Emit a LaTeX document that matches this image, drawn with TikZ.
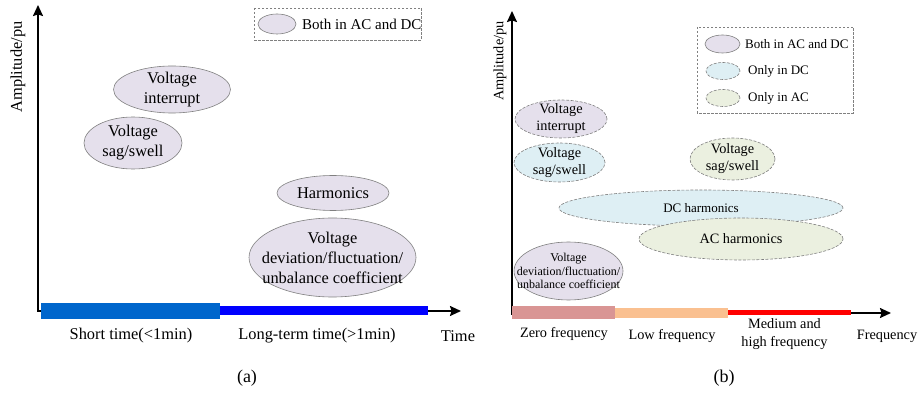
\documentclass[tikz,border=0pt]{standalone}
\usepackage{fontspec}
\setmainfont{Liberation Serif}
\usetikzlibrary{shapes.geometric,arrows.meta}

\definecolor{bothfill}{HTML}{E5E0EC}
\definecolor{dcfill}{HTML}{DEEFF4}
\definecolor{acfill}{HTML}{EBF0E0}
\definecolor{rim}{HTML}{808080}
\definecolor{shortbar}{HTML}{0066CC}
\definecolor{longbar}{HTML}{0000FF}
\definecolor{zerobar}{HTML}{D99594}
\definecolor{lowbar}{HTML}{FAC090}
\definecolor{highbar}{HTML}{FF0000}

\tikzset{
  x=1pt, y=-1pt,
  fa/.style={font=\fontsize{16.4}{20}\selectfont},
  fb/.style={font=\fontsize{14.3}{17}\selectfont},
  bubble/.style={ellipse, inner sep=0pt, draw=rim, line width=0.6pt},
  both/.style={bubble, fill=bothfill},
  dconly/.style={bubble, fill=dcfill, dash pattern=on 3pt off 1.5pt},
  aconly/.style={bubble, fill=acfill, dash pattern=on 3pt off 1.5pt},
  % text set on top of an ellipse of fixed size
  inside/.style 2 args={label={[lbl,#1]center:{#2}}},
  legendbox/.style={draw=rim, line width=0.6pt, dash pattern=on 2.5pt off 1.5pt},
  axis/.style={line width=1.8pt, -{Stealth[length=11pt,width=10pt,inset=1.5pt]}},
  lbl/.style={inner sep=0pt, align=center},
}

\begin{document}
\begin{tikzpicture}
\useasboundingbox[fill=white] (0,0) rectangle (919,395);

% ---------- (a) amplitude versus time ----------
\coordinate (aCorner) at (38,312);
\coordinate (aTop) at (38,5);
\coordinate (aEnd) at (461,311);
\draw[axis] (38,311) -- (aEnd);
\draw[axis] (aCorner) -- (aTop);
\fill[shortbar] (41,303) rectangle (220,319);
\fill[longbar] (220,306) rectangle (428,315);

\node[fa, lbl, rotate=90] (aylab) at (18,67) {Amplitude/pu};
\node[fa, lbl] (ashort) at (131,336) {Short time(<1min)};
\node[fa, lbl] (along) at (317,336) {Long-term time(>1min)};
\node[fa, lbl] (atime) at (458,336) {Time};
\node[lbl, font=\fontsize{18}{20}\selectfont] (acap) at (247,378) {(a)};

\draw[legendbox] (254,8) rectangle (421,40);
\node[both, minimum width=38pt, minimum height=20pt] (alegboth) at (277,24) {};
\node[lbl, anchor=west, font=\fontsize{15}{18}\selectfont] (alegtxt) at (302,24) {Both in AC and DC};

\node[both, minimum width=117pt, minimum height=47pt, inside={fa}{Voltage\\interrupt}] (aint) at (172,89.5) {};
\node[both, minimum width=98pt, minimum height=52pt, inside={fa}{Voltage\\sag/swell}] (asag) at (133,143) {};
\node[both, minimum width=112pt, minimum height=35pt, inside={fa}{Harmonics}] (aharm) at (333,193) {};
\node[both, minimum width=167pt, minimum height=79pt,
  inside={fa}{Voltage\\deviation/fluctuation/\\unbalance coefficient}] (adev) at (332.5,257.5) {};

% ---------- (b) amplitude versus frequency ----------
\coordinate (bCorner) at (512,315);
\coordinate (bTop) at (512,11);
\coordinate (bEnd) at (891,313);
\draw[axis] (512,313) -- (bEnd);
\draw[axis] (bCorner) -- (bTop);
\fill[zerobar] (512,306) rectangle (615,319);
\fill[lowbar] (615,308) rectangle (728,318);
\fill[highbar] (728,310) rectangle (851,315);

\node[fb, lbl, rotate=90] (bylab) at (500,61) {Amplitude/pu};
\node[fb, lbl] (bzero) at (564,334) {Zero frequency};
\node[fb, lbl] (blow) at (672,336) {Low frequency};
\node[lbl, font=\fontsize{14.3}{18}\selectfont] (bhigh) at (784.5,334) {Medium and\\high frequency};
\node[fb, lbl] (bfreq) at (887,336) {Frequency};
\node[lbl, font=\fontsize{18}{20}\selectfont] (bcap) at (724,378) {(b)};

\draw[legendbox] (697,27) rectangle (853,113);
\node[both, minimum width=35pt, minimum height=18pt] (blegboth) at (722.5,44) {};
\node[dconly, minimum width=34pt, minimum height=17pt] (blegdc) at (723,71) {};
\node[aconly, minimum width=34pt, minimum height=17pt] (blegac) at (723,98) {};
\node[lbl, anchor=west, font=\fontsize{13}{16}\selectfont] (blegbothtxt) at (745,44) {Both in AC and DC};
\node[lbl, anchor=west, font=\fontsize{13}{16}\selectfont] (blegdctxt) at (748,71) {Only in DC};
\node[lbl, anchor=west, font=\fontsize{13}{16}\selectfont] (blegactxt) at (748,98) {Only in AC};

\node[both, dash pattern=on 3pt off 1.5pt, minimum width=92pt, minimum height=38pt,
  inside={fb}{Voltage\\interrupt}] (bint) at (561,119) {};
\node[dconly, minimum width=91pt, minimum height=39pt, inside={fb}{Voltage\\sag/swell}] (bsagdc) at (559.5,162.5) {};
\node[aconly, minimum width=85pt, minimum height=42pt, inside={fb}{Voltage\\sag/swell}] (bsagac) at (732.5,159) {};
\node[dconly, minimum width=284pt, minimum height=36pt,
  inside={font=\fontsize{13}{16}\selectfont}{DC harmonics}] (bdch) at (701,208) {};
\node[aconly, minimum width=204pt, minimum height=42pt, inside={fb}{AC harmonics}] (bach) at (741,239) {};
\node[both, minimum width=109pt, minimum height=58pt,
  inside={font=\fontsize{12}{13.8}\selectfont}{Voltage\\deviation/fluctuation/\\unbalance coefficient}] (bdev) at (568.5,271) {};
\end{tikzpicture}
\end{document}
